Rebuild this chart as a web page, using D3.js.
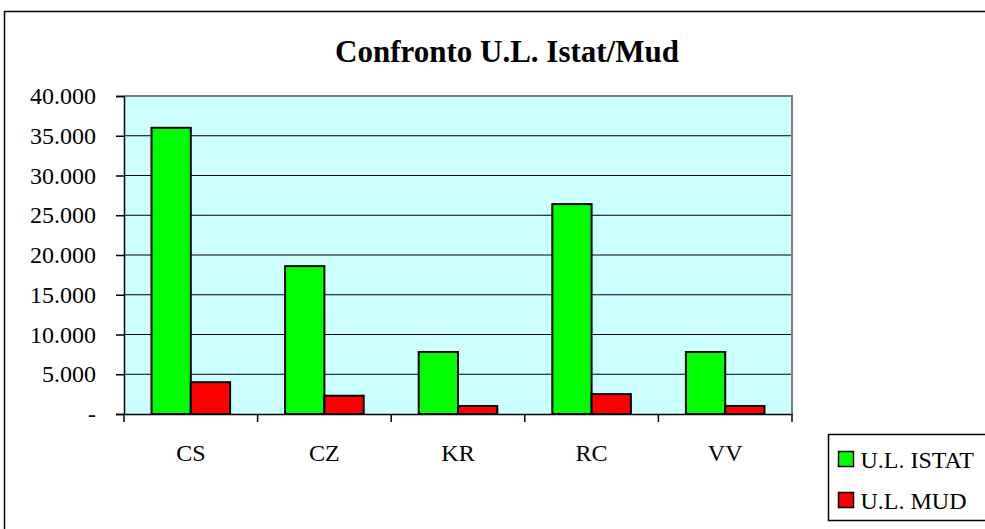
<!DOCTYPE html>
<html>
<head>
<meta charset="utf-8">
<script src="https://cdn.jsdelivr.net/npm/d3@7"></script>
<style>
  body { margin: 0; background: #fff; }
  svg text { font-family: "Liberation Serif", "Times New Roman", serif; fill: #000; }
</style>
</head>
<body>
<svg id="chart" width="985" height="529"></svg>
<script>
// Confronto U.L. Istat / Mud per provincia

var categories = ["CS", "CZ", "KR", "RC", "VV"];
var seriesNames = ["U.L. ISTAT", "U.L. MUD"];
var istatValues = [36000, 18600, 7800, 26400, 7800];
var mudValues = [4000, 2300, 1000, 2500, 1000];
var yTicks = [0, 5000, 10000, 15000, 20000, 25000, 30000, 35000, 40000];
var colors = ["#00ff00", "#ff0000"];

var svg = d3.select("#chart");

var plot = {left: 124, right: 792, top: 96, bottom: 414};

// outer chart frame (runs off the right and bottom edges)
svg.append("rect")
    .attr("x", 4.5).attr("y", 11.5)
    .attr("width", 1000).attr("height", 540)
    .attr("fill", "none")
    .attr("stroke", "#000")
    .attr("stroke-width", 1.5);

svg.append("text")
    .attr("x", 507)
    .attr("y", 62)
    .attr("text-anchor", "middle")
    .style("font-size", "31px")
    .style("font-weight", "bold")
    .text("Confronto U.L. Istat/Mud");

var x = d3.scaleBand()
    .domain(categories)
    .range([plot.left, plot.right]);

var x1 = d3.scaleBand()
    .domain(seriesNames)
    .range([0, x.bandwidth()])
    .paddingOuter(0.7);

var y = d3.scaleLinear()
    .domain([0, 40000])
    .range([plot.bottom, plot.top]);

// plot area
svg.append("rect")
    .attr("x", plot.left).attr("y", plot.top)
    .attr("width", plot.right - plot.left)
    .attr("height", plot.bottom - plot.top)
    .attr("fill", "#ccffff");

// gridlines
svg.append("g")
    .selectAll("line")
    .data(yTicks.filter(d => d > 0 && d < 40000))
    .join("line")
    .attr("x1", plot.left).attr("x2", plot.right)
    .attr("y1", d => y(d)).attr("y2", d => y(d))
    .attr("stroke", "#000")
    .attr("stroke-width", 1);

// border top + right in grey
svg.append("path")
    .attr("d", "M" + plot.left + "," + plot.top + "H" + plot.right + "V" + plot.bottom)
    .attr("fill", "none")
    .attr("stroke", "#808080")
    .attr("stroke-width", 2);

// bars
var data = categories.map((c, i) => ({cat: c, values: [istatValues[i], mudValues[i]]}));

svg.append("g")
    .selectAll("g")
    .data(data)
    .join("g")
        .attr("transform", d => "translate(" + x(d.cat) + ",0)")
    .selectAll("rect")
    .data(d => d.values.map((v, j) => ({name: seriesNames[j], value: v, color: colors[j]})))
    .join("rect")
        .attr("x", d => x1(d.name))
        .attr("y", d => y(d.value))
        .attr("width", x1.bandwidth())
        .attr("height", d => y(0) - y(d.value))
        .attr("fill", d => d.color)
        .attr("stroke", "#000")
        .attr("stroke-width", 2);

// y axis
var fmt = d3.formatLocale({decimal: ",", thousands: ".", grouping: [3], currency: ["€", ""]}).format(",d");

var yAxis = svg.append("g")
    .attr("transform", "translate(" + plot.left + ",0)")
    .call(d3.axisLeft(y)
        .tickValues(yTicks)
        .tickSize(8)
        .tickPadding(20)
        .tickFormat(d => d === 0 ? "-" : fmt(d)));

yAxis.select(".domain").attr("stroke", "#000").attr("stroke-width", 1.5);
yAxis.selectAll(".tick line").attr("stroke", "#000").attr("stroke-width", 1.5);
yAxis.selectAll("text")
    .style("font-size", "24px")
    .style("font-family", "'Liberation Serif', serif");

// x axis
var xAxis = svg.append("g")
    .attr("transform", "translate(0," + plot.bottom + ")")
    .call(d3.axisBottom(x).tickSize(0).tickPadding(0));

xAxis.select(".domain").attr("stroke", "#000").attr("stroke-width", 1.5);
xAxis.selectAll("text")
    .attr("y", 47)
    .attr("dy", 0)
    .style("font-size", "24px")
    .style("font-family", "'Liberation Serif', serif");

// tick marks at category boundaries
svg.append("g")
    .selectAll("line")
    .data(categories.concat(["end"]))
    .join("line")
    .attr("x1", (d, i) => plot.left + i * x.step())
    .attr("x2", (d, i) => plot.left + i * x.step())
    .attr("y1", plot.bottom)
    .attr("y2", plot.bottom + 8)
    .attr("stroke", "#000")
    .attr("stroke-width", 1.5);

// legend
var legend = svg.append("g").attr("transform", "translate(828.5,434.5)");

legend.append("rect")
    .attr("width", 200).attr("height", 86)
    .attr("fill", "#fff")
    .attr("stroke", "#000")
    .attr("stroke-width", 1.5);

var items = legend.selectAll("g.item")
    .data(seriesNames)
    .join("g")
    .attr("class", "item")
    .attr("transform", (d, i) => "translate(10," + (17 + i * 41) + ")");

items.append("rect")
    .attr("width", 15).attr("height", 15)
    .attr("fill", (d, i) => colors[i])
    .attr("stroke", "#000")
    .attr("stroke-width", 1.5);

items.append("text")
    .attr("x", 22)
    .attr("y", 16)
    .style("font-size", "24px")
    .text(d => d);
</script>
</body>
</html>
